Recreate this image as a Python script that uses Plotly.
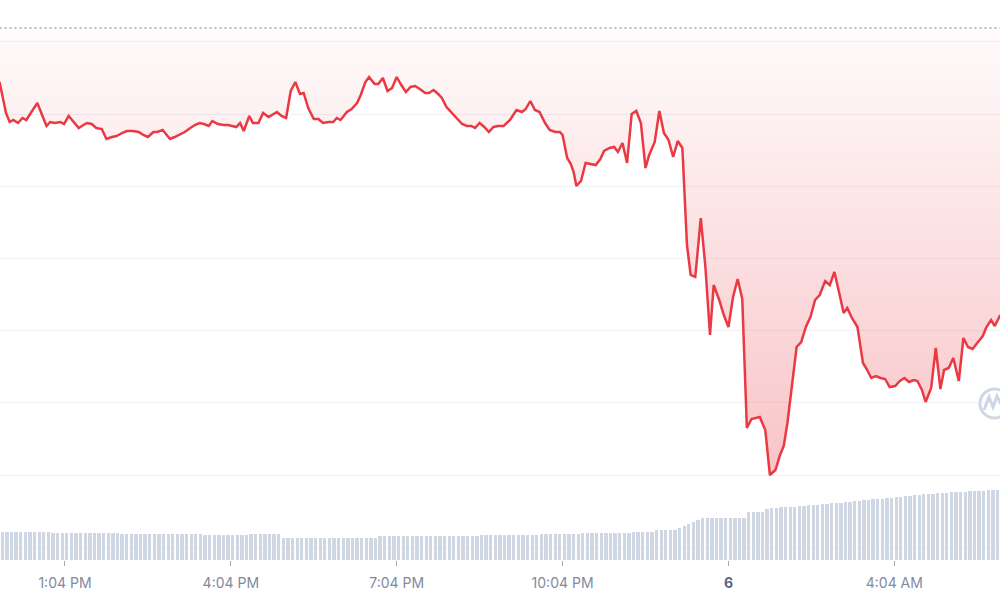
import plotly.graph_objects as go
import pandas as pd

# ---------------- data ----------------
START_DAY = "2024-08-05"

TIMES = [
    "11:53", "12:00", "12:04", "12:08", "12:13", "12:18", "12:22", "12:34", "12:40", "12:44",
    "12:48", "12:53", "12:59", "13:03", "13:08", "13:14", "13:19", "13:24", "13:28", "13:33",
    "13:38", "13:44", "13:49", "13:55", "14:00", "14:06", "14:11", "14:18", "14:24", "14:29",
    "14:34", "14:40", "14:44", "14:50", "14:54", "14:58", "15:03", "15:09", "15:14", "15:20",
    "15:25", "15:30", "15:35", "15:40", "15:44", "15:50", "15:56", "16:01", "16:07", "16:10",
    "16:14", "16:18", "16:24", "16:28", "16:34", "16:39", "16:45", "16:49", "16:54", "16:59",
    "17:04", "17:09", "17:14", "17:19", "17:23", "17:28", "17:34", "17:39", "17:44", "17:50",
    "17:55", "17:59", "18:03", "18:10", "18:15", "18:21", "18:25", "18:30", "18:34", "18:40",
    "18:44", "18:49", "18:54", "18:59", "19:04", "19:09", "19:14", "19:19", "19:24", "19:29",
    "19:35", "19:39", "19:44", "19:49", "19:53", "19:58", "20:04", "20:09", "20:15", "20:20",
    "20:25", "20:29", "20:34", "20:39", "20:44", "20:49", "20:54", "21:00", "21:07", "21:14",
    "21:20", "21:24", "21:29", "21:34", "21:39", "21:45", "21:50", "21:56", "22:01", "22:04",
    "22:09", "22:13", "22:16", "22:19", "22:24", "22:29", "22:35", "22:40", "22:45", "22:49",
    "22:55", "23:00", "23:04", "23:09", "23:14", "23:19", "23:24", "23:29", "23:34", "23:38",
    "23:44", "23:49", "23:54", "23:59", "00:04", "00:09", "00:14", "00:19", "00:23", "00:28",
    "00:34", "00:39", "00:44", "00:48", "00:54", "00:59", "01:04", "01:09", "01:14", "01:19",
    "01:24", "01:29", "01:38", "01:44", "01:49", "01:55", "02:00", "02:04", "02:08", "02:13",
    "02:18", "02:23", "02:28", "02:33", "02:38", "02:43", "02:49", "02:54", "02:59", "03:04",
    "03:09", "03:13", "03:18", "03:24", "03:30", "03:34", "03:39", "03:44", "03:49", "03:54",
    "03:59", "04:05", "04:10", "04:15", "04:20", "04:25", "04:29", "04:34", "04:38", "04:44",
    "04:49", "04:54", "04:58", "05:03", "05:08", "05:14", "05:19", "05:24", "05:29", "05:34",
    "05:40", "05:44", "05:49", "05:53", "05:59",
]

PRICES = [
    61.93, 61.62, 61.53, 61.55, 61.52, 61.57, 61.55, 61.72, 61.58, 61.49,
    61.53, 61.52, 61.53, 61.51, 61.59, 61.52, 61.47, 61.50, 61.52, 61.51,
    61.47, 61.46, 61.36, 61.38, 61.39, 61.42, 61.44, 61.44, 61.43, 61.40,
    61.38, 61.43, 61.43, 61.45, 61.40, 61.36, 61.38, 61.41, 61.43, 61.47,
    61.50, 61.52, 61.51, 61.49, 61.54, 61.51, 61.50, 61.50, 61.49, 61.48,
    61.52, 61.44, 61.59, 61.52, 61.52, 61.62, 61.58, 61.60, 61.63, 61.59,
    61.57, 61.84, 61.93, 61.81, 61.82, 61.67, 61.56, 61.56, 61.52, 61.53,
    61.53, 61.57, 61.55, 61.63, 61.66, 61.72, 61.80, 61.93, 61.98, 61.91,
    61.91, 61.97, 61.84, 61.87, 61.98, 61.90, 61.83, 61.88, 61.89, 61.86,
    61.82, 61.82, 61.85, 61.81, 61.77, 61.68, 61.62, 61.57, 61.51, 61.49,
    61.49, 61.47, 61.52, 61.48, 61.43, 61.48, 61.49, 61.49, 61.55, 61.65,
    61.63, 61.66, 61.74, 61.65, 61.63, 61.52, 61.45, 61.43, 61.43, 61.40,
    61.17, 61.11, 61.03, 60.89, 60.94, 61.12, 61.11, 61.10, 61.16, 61.24,
    61.27, 61.28, 61.23, 61.32, 61.12, 61.61, 61.64, 61.52, 61.07, 61.20,
    61.33, 61.64, 61.42, 61.35, 61.18, 61.34, 61.27, 60.30, 60.00, 59.98,
    60.57, 60.08, 59.40, 59.90, 59.75, 59.60, 59.48, 59.78, 59.96, 59.76,
    58.47, 58.56, 58.58, 58.45, 58.00, 58.05, 58.20, 58.29, 58.52, 58.88,
    59.28, 59.33, 59.48, 59.58, 59.75, 59.80, 59.94, 59.90, 60.03, 59.83,
    59.62, 59.67, 59.57, 59.48, 59.12, 59.06, 58.97, 58.99, 58.97, 58.96,
    58.88, 58.89, 58.94, 58.97, 58.93, 58.95, 58.94, 58.85, 58.73, 58.87,
    59.27, 58.86, 59.05, 59.07, 59.17, 58.94, 59.37, 59.28, 59.26, 59.32,
    59.39, 59.48, 59.55, 59.49, 59.60,
]

REF_PRICE = 62.47  # dotted reference (open) price

VOL_START = "2024-08-05 11:56"
VOLUMES = (
    [27.7] * 11 + [26.7] * 15 + [25.7] * 18 + [25.0] * 10 + [26.0] * 7
    + [22.3] * 21 + [24.3] * 22 + [25.0] * 13 + [26.0] * 9 + [26.7] * 11
    + [27.7] * 5 + [30.0] * 5
    + [31.7, 34.0, 36.0, 38.0, 40.0, 41.7] + [42.3] * 9
    + [48.3] * 4 + [50.7]
    + [52.3, 52.3, 53.0, 53.0, 53.5, 53.5]
    + [54.0, 54.0, 54.7, 55.0, 55.3, 55.7, 56.0]
    + [56.7, 57.0, 57.3, 57.7, 58.3, 58.7, 59.3]
    + [60.0, 60.0, 60.7, 61.0, 61.3, 62.0, 62.3]
    + [62.7, 63.3, 64.0, 64.3, 65.0, 65.3, 65.7]
    + [66.0, 66.3, 66.7, 67.0, 67.3, 67.7, 68.0, 68.0]
    + [68.3, 68.7, 69.0, 69.3, 69.5, 69.7, 70.0, 70.0]
)

TICK_TIMES = ["2024-08-05 13:04", "2024-08-05 16:04", "2024-08-05 19:04",
              "2024-08-05 22:04", "2024-08-06 01:04", "2024-08-06 04:04"]
TICK_LABELS = ["1:04 PM", "4:04 PM", "7:04 PM", "10:04 PM",
               "<span style='color:#58667E'><b>6</b></span>", "4:04 AM"]

X_RANGE = ["2024-08-05 11:53:30", "2024-08-06 05:58:42"]

# ---------------- build timestamps ----------------
ts = []
day = pd.Timestamp(START_DAY)
prev = None
for t in TIMES:
    cur = day + pd.Timedelta(hours=int(t[:2]), minutes=int(t[3:]))
    if prev is not None and cur < prev:
        day += pd.Timedelta(days=1)
        cur += pd.Timedelta(days=1)
    ts.append(cur)
    prev = cur

vol_times = pd.date_range(VOL_START, periods=len(VOLUMES), freq="5min")

RED = "#EA3943"

fig = go.Figure()

fig.add_trace(go.Bar(
    x=vol_times, y=VOLUMES, yaxis="y2",
    marker=dict(color="#CFD6E4", line=dict(width=0)),
    width=215000, hoverinfo="skip",
))

# reference dotted line (also fill baseline)
fig.add_trace(go.Scatter(
    x=[ts[0], ts[-1]], y=[REF_PRICE, REF_PRICE], mode="lines",
    line=dict(color="#A1A7BB", width=1.5, dash="2px,3px"),
    hoverinfo="skip",
))

fig.add_trace(go.Scatter(
    x=ts, y=PRICES, mode="lines",
    line=dict(color=RED, width=2.5),
    fill="tonexty",
    fillgradient=dict(
        type="vertical",
        colorscale=[[0, "rgba(234,57,67,0.30)"], [1, "rgba(234,57,67,0.02)"]],
        start=58.0, stop=REF_PRICE,
    ),
))

# watermark logo (partially clipped at right edge)
fig.add_shape(type="circle", xref="paper", yref="paper",
              x0=0.980, x1=1.009, y0=1 - 418 / 560, y1=1 - 389 / 560,
              line=dict(color="#CFD6E4", width=3))
fig.add_shape(type="path", xref="paper", yref="paper",
              path="M 0.984 %.4f L 0.989 %.4f L 0.993 %.4f L 0.997 %.4f L 1.001 %.4f" % (
                  1 - 410 / 560, 1 - 397 / 560, 1 - 407 / 560, 1 - 396 / 560, 1 - 404 / 560),
              line=dict(color="#CFD6E4", width=3))

fig.update_layout(
    width=1000, height=600,
    margin=dict(l=0, r=0, t=0, b=40),
    paper_bgcolor="white", plot_bgcolor="white",
    showlegend=False,
    font=dict(family="Inter, sans-serif"),
    xaxis=dict(
        type="date", range=X_RANGE,
        tickmode="array", tickvals=TICK_TIMES, ticktext=TICK_LABELS,
        ticks="outside", ticklen=5, tickwidth=1, tickcolor="#A1A7BB",
        tickfont=dict(family="Inter, sans-serif", size=14, color="#808A9D"),
        ticklabelstandoff=5,
        showgrid=False, zeroline=False, showline=False,
    ),
    yaxis=dict(
        range=[57.15, 62.75], tick0=58, dtick=0.7217,
        showticklabels=False, ticks="",
        showgrid=True, gridcolor="#EFF2F5", gridwidth=1,
        zeroline=False, showline=False,
    ),
    yaxis2=dict(
        overlaying="y", range=[0, 560], visible=False, showgrid=False,
    ),
    bargap=0,
)

fig.write_html(
    "out.html",
    config={"displayModeBar": False},
    post_script="document.body.style.margin='0';document.body.style.overflow='hidden';",
)
